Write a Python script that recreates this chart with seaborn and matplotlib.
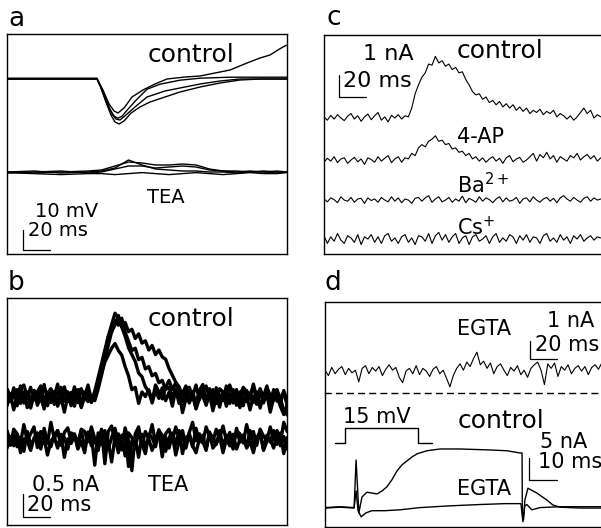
import numpy as np
import pandas as pd
import matplotlib
matplotlib.use('Agg')
import matplotlib.pyplot as plt
import seaborn as sns

sns.set_theme(style='white')
plt.rcParams['font.family'] = ['DejaVu Sans']
plt.rcParams['text.color'] = 'black'

# ---- panel a: voltage responses (ms, mV), control and TEA ----
a_ctrl1_t = [0, 66.7, 71.1, 75.6, 79.3, 82.2, 86.7, 92.6, 100.7, 109.6, 118.5, 131.9, 143.0, 154.1, 165.2, 177.8, 187.4, 194.8, 200.7, 204.4, 207.4]
a_ctrl1_v = [0, 0, -5.5, -12.5, -16, -17, -14.5, -9, -5.5, -2.5, 0, 1, 1.5, 3, 4.5, 8, 10.5, 12, 14.5, 16, 17]
a_ctrl2_t = [0, 66.7, 69.6, 73.3, 77.0, 80.0, 83.0, 86.7, 91.9, 98.5, 105.9, 117.0, 128.1, 143.0, 157.8, 172.6, 187.4, 207.4]
a_ctrl2_v = [0, 0, -4.5, -11.5, -18, -21.5, -22.5, -21, -17, -14, -11.5, -9, -6.5, -4, -2, -0.5, 0, 0]
a_ctrl3_t = [0, 66.7, 70.4, 74.1, 77.8, 80.7, 83.7, 88.1, 94.8, 103.7, 117.0, 128.1, 143.0, 157.8, 172.6, 207.4]
a_ctrl3_v = [0, 0, -5.5, -12.5, -17.5, -20, -20.5, -18, -14, -9, -6, -4.5, -2.5, -1, 0, 0]
a_ctrl4_t = [0, 66.7, 68.9, 72.6, 76.3, 79.3, 82.2, 85.2, 89.6, 95.6, 103.7, 113.3, 128.1, 143.0, 165.2, 207.4]
a_ctrl4_v = [0, 0, -3.5, -9.5, -15.5, -19, -20, -19, -15.5, -11, -5.5, -3, -1, 0, 0.5, 0.5]

a_tea_t = [0, 20, 40, 60, 70, 80, 90, 100, 110, 120, 130, 140, 150, 160, 170, 180, 190, 200, 207.4]
a_tea1_v = [0, 0.5, -0.5, 0, 0.5, 2, 6, 3.5, 1.5, 1, 0.5, 0.5, 0, 0, -0.5, 0, 0.5, 0, 0]
a_tea2_v = [0, -0.5, 0, 0.5, 1, 3, 5, 4.5, 3.5, 3.5, 4, 3.5, 1.5, 0.5, 0, 0.5, 0, -0.5, 0]
a_tea3_v = [-0.5, 0, 0.5, -0.5, 0, 1.5, 3, 3, 2, 2.5, 3, 2.5, 1, 0.5, 0.5, 0, 0, 0.5, 0]
a_tea4_v = [0.5, 0, -0.5, 0, 0, -0.5, 0, 0.5, 0, -0.5, 0, 0.5, 0, -0.5, 0, 0.5, 0, 0, 0.5]

# ---- panel b: currents (nA), sampled every 2.5 ms ----
b_dt = 2.5
b_ctrl1 = [0.05, -0.12, 0.18, -0.05, 0.22, -0.15, 0.08, -0.2, 0.12, 0.02,
           -0.1, 0.25, -0.08, 0.1, -0.18, 0.15, -0.02, 0.2, -0.12, 0.05,
           -0.22, 0.1, 0.16, -0.06, 0.12, -0.1, 0.1, 0.4, 0.7, 1.0,
           1.3, 1.55, 1.8, 1.7, 1.5, 1.3, 1.05, 0.9, 0.75, 0.5,
           0.42, 0.2, 0.1, -0.15, 0.12, -0.05, 0.18, -0.1, 0.08, -0.22,
           0.15, 0.02, -0.12, 0.2, -0.05, 0.1, -0.18, 0.12, 0.25, -0.08,
           0.05, -0.15, 0.18, 0.0, -0.1, 0.22, -0.05, 0.12, -0.2, 0.08,
           0.15, -0.12, 0.05, 0.2, -0.08, 0.1, -0.15, 0.18, 0.02, -0.1,
           0.12, -0.05, 0.08, -0.2]
b_ctrl2 = [-0.08, 0.15, -0.2, 0.1, -0.02, 0.18, -0.15, 0.05, 0.22, -0.1,
           0.08, -0.18, 0.14, -0.04, 0.2, -0.12, 0.06, -0.25, 0.1, 0.18,
           -0.05, 0.12, -0.15, 0.08, -0.02, 0.05, 0.0, 0.25, 0.55, 0.9,
           1.2, 1.5, 1.65, 1.85, 1.6, 1.7, 1.5, 1.55, 1.35, 1.45,
           1.25, 1.3, 1.1, 1.2, 1.0, 1.1, 0.95, 0.9, 0.7, 0.55,
           0.4, 0.3, 0.1, 0.15, -0.05, 0.12, -0.18, 0.05, 0.2, -0.1,
           0.15, -0.22, 0.08, 0.0, 0.18, -0.12, 0.1, -0.05, 0.22, -0.15,
           0.05, 0.12, -0.2, 0.1, -0.08, 0.18, -0.02, 0.14, -0.25, 0.06,
           0.1, -0.12, -0.3, -0.1]
b_ctrl3 = [0.12, -0.05, 0.08, -0.25, 0.1, 0.2, -0.08, 0.15, -0.12, 0.05,
           0.18, -0.2, 0.02, 0.12, -0.06, 0.22, -0.15, 0.08, 0.05, -0.1,
           0.16, -0.18, 0.1, -0.05, 0.2, -0.12, -0.05, 0.2, 0.45, 0.7,
           0.85, 1.0, 1.1, 0.95, 0.85, 0.6, 0.4, 0.1, 0.15, -0.2,
           0.05, -0.05, 0.1, -0.15, 0.2, 0.05, -0.1, 0.15, 0.3, 0.1,
           0.25, 0.05, -0.4, -0.1, 0.15, -0.05, 0.2, -0.12, 0.08, 0.18,
           -0.08, 0.1, -0.2, 0.12, 0.05, -0.15, 0.2, -0.02, 0.1, -0.18,
           0.15, 0.05, -0.1, 0.22, -0.08, 0.12, -0.05, 0.18, -0.15, 0.05,
           0.1, -0.2, 0.08, -0.15]
b_ctrl4 = [-0.15, 0.1, 0.02, 0.2, -0.1, 0.05, 0.15, -0.2, 0.08, -0.05,
           0.2, 0.0, -0.15, 0.12, 0.05, -0.1, 0.25, -0.05, 0.1, -0.15,
           0.08, 0.2, -0.1, 0.15, 0.05, -0.08, 0.15, 0.35, 0.65, 1.0,
           1.35, 1.45, 1.7, 1.6, 1.75, 1.45, 1.25, 1.05, 1.1, 0.85,
           0.9, 0.65, 0.7, 0.5, 0.55, 0.35, 0.4, 0.2, 0.25, 0.05,
           0.2, -0.1, 0.12, 0.28, -0.05, 0.1, -0.2, 0.15, 0.05, -0.12,
           0.22, 0.0, 0.1, -0.18, 0.15, 0.08, -0.1, 0.2, -0.05, 0.12,
           -0.15, 0.18, 0.02, -0.08, 0.15, -0.2, 0.1, 0.05, -0.12, 0.2,
           -0.05, 0.0, -0.25, -0.35]
b_tea1 = [0.1, -0.2, 0.15, 0.05, -0.15, 0.25, -0.1, 0.05, 0.2, -0.25,
          0.1, 0.0, -0.15, 0.3, -0.05, 0.12, -0.2, 0.08, 0.18, -0.1,
          0.05, -0.25, 0.15, 0.1, -0.12, 0.2, -0.05, -0.3, 0.15, -0.6,
          0.1, 0.22, -0.15, 0.05, -0.3, 0.18, -0.1, -0.75, 0.05, 0.2,
          -0.2, 0.1, -0.05, 0.25, -0.15, 0.1, -0.45, 0.05, 0.15, -0.1,
          0.2, -0.05, 0.12, -0.2, 0.08, 0.3, -0.1, 0.05, -0.15, 0.2,
          0.0, -0.12, 0.15, -0.05, 0.22, -0.1, 0.08, -0.2, 0.12, 0.05,
          -0.15, 0.25, -0.05, 0.1, -0.2, 0.15, 0.0, -0.1, 0.2, -0.08,
          0.12, -0.15, 0.3, 0.1]
b_tea2 = [-0.1, 0.15, -0.05, 0.2, -0.2, 0.1, 0.05, -0.15, 0.12, 0.22,
          -0.08, 0.1, -0.25, 0.05, 0.15, -0.1, 0.2, -0.3, 0.1, 0.0,
          0.18, -0.12, 0.05, -0.2, 0.25, -0.05, 0.1, -0.15, 0.3, -0.1,
          0.05, -0.4, 0.15, -0.2, 0.1, 0.25, -0.5, 0.05, 0.12, -0.3,
          0.2, -0.05, 0.1, -0.15, 0.05, 0.3, -0.2, 0.1, -0.1, 0.18,
          -0.25, 0.05, 0.15, -0.1, 0.22, -0.05, -0.2, 0.1, 0.05, -0.15,
          0.25, -0.1, 0.0, 0.15, -0.2, 0.1, -0.05, 0.2, -0.12, 0.08,
          0.18, -0.1, 0.05, -0.2, 0.12, 0.25, -0.15, 0.05, 0.1, -0.1,
          0.2, -0.05, 0.15, -0.12]
b_tea3 = [0.2, -0.05, 0.1, -0.15, 0.05, -0.25, 0.18, -0.1, 0.0, 0.15,
          -0.2, 0.25, -0.05, -0.15, 0.1, 0.2, -0.1, 0.05, -0.2, 0.15,
          0.1, -0.05, 0.2, -0.15, 0.05, 0.1, -0.55, 0.15, -0.1, 0.2,
          -0.2, 0.05, 0.25, -0.1, 0.1, -0.35, 0.15, 0.05, -0.2, 0.2,
          -0.1, -0.3, 0.12, 0.05, -0.15, 0.2, 0.1, -0.25, 0.05, 0.15,
          -0.1, 0.2, -0.3, 0.05, 0.1, -0.15, 0.25, -0.05, 0.1, -0.2,
          0.15, 0.05, -0.1, 0.2, -0.15, 0.1, 0.0, -0.2, 0.25, -0.05,
          0.1, -0.15, 0.2, -0.1, 0.05, 0.15, -0.2, 0.1, -0.05, 0.2,
          -0.1, 0.15, -0.3, 0.05]

# ---- panel c: currents (nA), control / 4-AP / Ba2+ / Cs+ ----
c_dt = 2.5
c_ctrl = [0.05, -0.1, 0.12, -0.05, 0.15, 0.0, -0.12, 0.08, 0.2, -0.05,
          0.1, -0.15, 0.05, 0.18, -0.08, 0.1, 0.25, -0.1, 0.05, -0.18,
          0.12, 0.0, 0.15, -0.05, 0.1, 0.05, 0.45, 1.1, 1.5, 1.85,
          2.05, 2.45, 2.4, 2.8, 2.5, 2.6, 2.35, 2.45, 2.2, 2.3,
          2.05, 2.1, 1.75, 1.5, 1.2, 1.05, 1.1, 0.85, 0.95, 0.7,
          0.8, 0.6, 0.75, 0.5, 0.65, 0.45, 0.6, 0.35, 0.5, 0.3,
          0.45, 0.2, 0.35, 0.25, 0.4, 0.15, 0.3, 0.2, 0.35, 0.05,
          0.2, 0.1, -0.05, 0.1, -0.1, 0.05, 0.25, 0.45, 0.2, 0.35,
          0.0, 0.15, 0.05]
c_4ap = [-0.1, 0.08, -0.05, 0.15, -0.12, 0.05, 0.1, -0.15, 0.0, 0.12,
         -0.08, 0.05, -0.2, 0.1, 0.02, -0.1, 0.15, -0.05, 0.08, 0.2,
         -0.12, 0.05, 0.15, -0.1, 0.1, 0.05, 0.3, 0.2, 0.55, 0.7,
         0.6, 0.85, 0.95, 1.1, 0.85, 0.9, 0.7, 0.75, 0.5, 0.55,
         0.35, 0.4, 0.2, 0.3, 0.05, 0.15, -0.05, 0.1, -0.1, 0.05,
         0.15, -0.05, 0.08, -0.15, 0.1, 0.2, -0.08, 0.05, 0.12, -0.1,
         0.0, 0.15, 0.3, -0.05, 0.25, 0.1, 0.35, 0.05, 0.2, -0.1,
         0.15, 0.05, -0.05, 0.2, 0.1, 0.3, 0.0, 0.15, 0.25, 0.05,
         0.2, -0.05, 0.1]
c_ba = [0.05, -0.08, 0.1, 0.02, -0.12, 0.15, 0.0, -0.05, 0.12, -0.1,
        0.05, 0.08, -0.15, 0.1, -0.02, 0.05, -0.1, 0.12, 0.0, -0.08,
        0.15, -0.05, 0.1, -0.12, 0.05, 0.0, -0.15, 0.08, 0.12, -0.05,
        0.1, 0.2, -0.1, 0.05, 0.15, -0.08, 0.0, 0.12, -0.1, 0.05,
        -0.05, 0.18, -0.12, 0.08, 0.0, -0.1, 0.15, -0.05, 0.1, 0.02,
        -0.12, 0.05, 0.15, -0.08, 0.1, -0.05, 0.0, 0.12, -0.15, 0.05,
        0.1, -0.08, 0.15, 0.0, -0.1, 0.05, 0.12, -0.05, 0.08, -0.12,
        0.1, 0.2, 0.05, -0.05, 0.12, 0.0, -0.1, 0.08, 0.15, -0.05,
        0.1, 0.0, 0.05]
c_cs = [0.15, -0.2, 0.1, -0.1, 0.25, -0.05, -0.2, 0.15, 0.05, -0.15,
        0.2, -0.25, 0.1, 0.0, 0.2, -0.15, 0.1, -0.2, 0.15, 0.25,
        -0.1, 0.05, -0.2, 0.1, 0.2, -0.15, 0.05, -0.25, 0.15, 0.1,
        -0.1, 0.25, -0.2, 0.15, 0.3, -0.05, 0.2, -0.15, 0.1, 0.25,
        -0.2, 0.05, 0.15, -0.25, 0.1, 0.2, -0.1, 0.0, 0.15, -0.2,
        0.1, 0.25, -0.15, 0.05, -0.1, 0.2, 0.1, -0.2, 0.15, -0.05,
        0.2, -0.15, 0.1, 0.05, -0.2, 0.15, 0.25, -0.1, 0.05, -0.15,
        0.2, -0.05, 0.1, -0.2, 0.15, 0.0, 0.2, -0.1, 0.05, 0.15,
        -0.05, 0.1, 0.05]

# ---- panel d: EGTA current (top) and step responses (bottom) ----
d_dt = 2.5
d_egta_top = [0.1, -0.2, 0.25, -0.1, 0.15, 0.3, -0.15, 0.2, -0.05, 0.1,
              -0.55, 0.2, 0.35, -0.1, 0.25, 0.05, 0.3, -0.2, 0.15, 0.4,
              0.1, 0.25, -0.3, -0.6, 0.05, 0.2, -0.1, 0.35, -0.15, 0.2,
              0.05, -0.25, 0.15, 0.3, -0.1, 0.1, -0.35, -0.83, -0.2, 0.2,
              0.45, 0.1, 0.55, 0.3, 0.75, 1.1, 0.4, 0.6, 0.2, 0.5,
              -0.1, 0.3, 0.45, 0.1, -0.2, 0.25, 0.05, 0.35, -0.15, 0.1,
              -0.3, 0.2, 0.4, 0.55, 0.1, -0.7, 0.45, 0.2, 0.5, -0.25,
              0.3, 0.1, 0.4, -0.1, 0.2, 0.35, 0.05, 0.3, -0.15, 0.25,
              0.4, 0.15, 0.5]

d_ctrl_t = [0, 5.4, 10.4, 11.1, 12.1, 13.2, 15.0, 16.8, 18.6, 20.4,
            22.1, 23.9, 25.7, 27.5, 29.3, 31.1, 32.9, 36.4, 41.1, 48.2,
            57.9, 65.0, 69.6, 70.4, 70.5, 70.9, 71.4, 72.5, 75.7, 79.3,
            81.4, 83.9, 91.1, 98.6]
d_ctrl_v = [0, 0.2, 0, 10.9, -1.1, 2.5, 3.6, 3.4, 3.2, 3.9,
            4.8, 6.4, 8.4, 9.8, 10.7, 11.6, 12.3, 13.0, 13.4, 13.4,
            13.2, 13.0, 12.5, 12.5, -0.9, -2.7, 1.8, 4.5, 3.4, 1.8,
            0.7, 0.2, 0, 0]
d_egta_t = [0, 5.4, 10.4, 11.1, 11.8, 12.9, 14.6, 16.8, 21.4, 26.8, 33.9, 44.6,
            55.4, 64.3, 70.0, 70.4, 70.7, 71.4, 72.1, 73.9, 76.8, 83.9, 98.6]
d_egta_v = [-0.2, 0, -0.2, 3.6, -0.9, -2.3, -1.4, -0.9, -0.9, -0.7, -0.2, 0.2,
            0.5, 0.7, 0.7, -1.6, -3.4, 0.2, 0.5, -0.7, -0.2, 0, 0]
d_step_t = [3.6, 7.1, 7.1, 33.2, 33.2, 38.2]
d_step_mv = [0, 0, 15, 15, 0, 0]

W, H = 601, 528
fig = plt.figure(figsize=(W / 100, H / 100), dpi=100)


def add_box(l, t, r, b):
    ax = fig.add_axes([l / W, 1 - b / H, (r - l) / W, (b - t) / H])
    ax.set_facecolor('none')
    return ax


def traces(ax, items, lw=0.8):
    frames = []
    for k, (t, v, off) in enumerate(items):
        frames.append(pd.DataFrame({'t': t, 'v': np.asarray(v, float) + off, 'k': k}))
    df = pd.concat(frames, ignore_index=True)
    sns.lineplot(data=df, x='t', y='v', units='k', estimator=None, sort=False,
                 color='black', lw=lw, ax=ax, legend=False)


def uniform(v, dt):
    return np.arange(len(v)) * dt


def scalebar(ax, x, y, w, h):
    ax.plot([x, x, x + w], [y + h, y, y], color='black', lw=0.9)


def frame(ax, xlim, ylim, hide=()):
    ax.set_xlim(xlim)
    ax.set_ylim(ylim)
    ax.set_xticks([])
    ax.set_yticks([])
    ax.set_xlabel('')
    ax.set_ylabel('')
    for s in ax.spines.values():
        s.set_color('black')
        s.set_linewidth(1.0)
    for s in hide:
        ax.spines[s].set_visible(False)


def label(ax, x, y, s, size=15):
    ax.text(x, y, s, fontsize=size, va='baseline', ha='left', color='black')


# panel a
ax_a = add_box(7, 34, 287, 254)
tea_off = -46.5
traces(ax_a, [(a_ctrl1_t, a_ctrl1_v, 0), (a_ctrl2_t, a_ctrl2_v, 0),
              (a_ctrl3_t, a_ctrl3_v, 0), (a_ctrl4_t, a_ctrl4_v, 0.4),
              (a_tea_t, a_tea1_v, tea_off), (a_tea_t, a_tea2_v, tea_off),
              (a_tea_t, a_tea3_v, tea_off), (a_tea_t, a_tea4_v, tea_off - 0.8)], lw=1.0)
frame(ax_a, (0, 207.4), (-87.5, 22.5))
label(ax_a, 104.4, 8.5, 'control', 18)
label(ax_a, 103.7, -62, 'TEA', 14)
label(ax_a, 20.7, -69.0, '10 mV', 14)
label(ax_a, 15.6, -78.5, '20 ms', 14)
scalebar(ax_a, 11.9, -85.5, 20, 10)

# panel b
ax_b = add_box(7, 298, 287, 525)
b_tea_off = -0.91
items = [(uniform(v, b_dt), v, o) for v, o in ((b_ctrl1, 0.04), (b_ctrl2, -0.06), (b_ctrl3, 0.08), (b_ctrl4, -0.02))]
items += [(uniform(v, b_dt), v, b_tea_off + o) for v, o in ((b_tea1, 0.08), (b_tea2, -0.08), (b_tea3, 0.0))]
traces(ax_b, items, lw=2.4)
frame(ax_b, (0, 207.4), (-2.76, 2.17))
label(ax_b, 104.4, 1.57, 'control', 18)
label(ax_b, 18.5, -2.02, '0.5 nA', 15)
label(ax_b, 104.4, -2.02, 'TEA', 15)
label(ax_b, 14.8, -2.46, '20 ms', 15)
scalebar(ax_b, 11.9, -2.59, 20, 0.5)

# panel c
ax_c = add_box(324, 35, 601, 254)
traces(ax_c, [(uniform(c_ctrl, c_dt), c_ctrl, 0), (uniform(c_4ap, c_dt), c_4ap, -1.91),
              (uniform(c_ba, c_dt), c_ba, -3.73), (uniform(c_cs, c_dt), c_cs, -5.5)], lw=0.8)
frame(ax_c, (0, 205.2), (-6.18, 3.77), hide=('right',))
label(ax_c, 28.9, 2.64, '1 nA', 16)
label(ax_c, 98.5, 2.73, 'control', 18)
label(ax_c, 14.1, 1.41, '20 ms', 16)
label(ax_c, 98.5, -1.14, '4-AP', 15)
label(ax_c, 98.5, -3.41, 'Ba$^{2+}$', 15)
label(ax_c, 98.5, -5.32, 'Cs$^{+}$', 15)
scalebar(ax_c, 11.1, 0.95, 20, 1)

# panel d, top part
ax_d1 = add_box(325, 302, 601, 393)
traces(ax_d1, [(uniform(d_egta_top, d_dt), d_egta_top, 0)], lw=0.8)
frame(ax_d1, (0, 204.4), (-1.17, 3.89), hide=('right',))
ax_d1.spines['bottom'].set_linestyle((0, (4, 4)))
label(ax_d1, 97.8, 2.06, 'EGTA', 15)
label(ax_d1, 164.4, 2.5, '1 nA', 15)
label(ax_d1, 155.6, 1.17, '20 ms', 15)
scalebar(ax_d1, 151.9, 0.72, 20, 1)

# panel d, bottom part
ax_d2 = add_box(325, 393, 601, 527)
step_base, step_scale = 14.8, 0.227
traces(ax_d2, [(d_ctrl_t, d_ctrl_v, 0), (d_egta_t, d_egta_v, 0.3),
               (d_step_t, np.asarray(d_step_mv) * step_scale, step_base)], lw=1.0)
frame(ax_d2, (0, 98.6), (-4.3, 26.1), hide=('right', 'top'))
label(ax_d2, 6.4, 19.3, '15 mV', 15)
label(ax_d2, 47.5, 18.2, 'control', 18)
label(ax_d2, 76.8, 13.6, '5 nA', 15)
label(ax_d2, 76.1, 9.1, '10 ms', 15)
label(ax_d2, 47.1, 2.95, 'EGTA', 15)
scalebar(ax_d2, 72.9, 6.36, 10, 5)

for s, x, y in (('a', 8, 26), ('b', 8, 290), ('c', 327, 25), ('d', 325, 290)):
    fig.text(x / W, 1 - y / H, s, fontsize=19, va='baseline', ha='left', color='black')

fig.savefig('out.png', dpi=100, facecolor='white')
